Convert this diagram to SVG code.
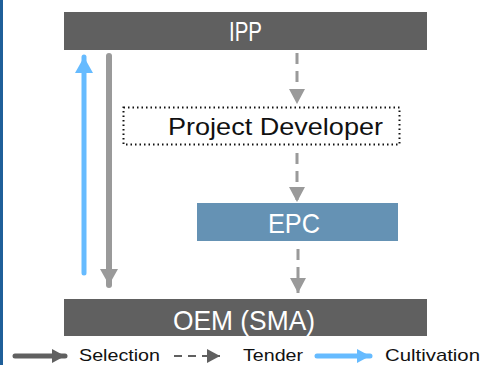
<svg xmlns="http://www.w3.org/2000/svg" width="483" height="365" viewBox="0 0 483 365">
<style>
.lbl{font-family:"Liberation Sans","DejaVu Sans",sans-serif;text-anchor:middle}
.w{fill:#ffffff}
.leg{font-family:"Liberation Sans","DejaVu Sans",sans-serif;font-size:17px;fill:#111}
.dash{stroke:#9a9a9a;stroke-width:3;stroke-dasharray:11 7;fill:none}
</style>
<defs>
<marker id="hGray" markerUnits="userSpaceOnUse" markerWidth="18" markerHeight="16" refX="16" refY="8.5" orient="auto" viewBox="0 0 18 17"><polygon points="0,0 16,8.5 0,17" fill="#9a9a9a"/></marker>
<marker id="hGray2" markerUnits="userSpaceOnUse" markerWidth="18" markerHeight="18" refX="16" refY="9" orient="auto" viewBox="0 0 18 18"><polygon points="0,0 16,9 0,18" fill="#9a9a9a"/></marker>
<marker id="hBlue" markerUnits="userSpaceOnUse" markerWidth="18" markerHeight="18" refX="16" refY="9" orient="auto" viewBox="0 0 18 18"><polygon points="0,0 16,9 0,18" fill="#66bbff"/></marker>
<marker id="hDark" markerUnits="userSpaceOnUse" markerWidth="14" markerHeight="14" refX="13" refY="7" orient="auto" viewBox="0 0 14 14"><polygon points="0,0 13,7 0,14" fill="#606060"/></marker>
<marker id="hBlueS" markerUnits="userSpaceOnUse" markerWidth="14" markerHeight="14" refX="13" refY="7" orient="auto" viewBox="0 0 14 14"><polygon points="0,0 13,7 0,14" fill="#66bbff"/></marker>
<marker id="hGrayS" markerUnits="userSpaceOnUse" markerWidth="14" markerHeight="14" refX="13" refY="7" orient="auto" viewBox="0 0 14 14"><polygon points="0,0 13,7 0,14" fill="#606060"/></marker>
</defs>
<rect x="0" y="0" width="3" height="365" fill="#1f5f99"/>

<g id="connectors">
<line x1="84" y1="273" x2="84" y2="57" stroke="#66bbff" stroke-width="5" stroke-linecap="round" marker-end="url(#hBlue)"/>
<line x1="109" y1="56" x2="109" y2="285" stroke="#9a9a9a" stroke-width="6" stroke-linecap="round" marker-end="url(#hGray2)"/>
<line class="dash" x1="297" y1="53" x2="297" y2="104" marker-end="url(#hGray)"/>
<line class="dash" x1="297" y1="153" x2="297" y2="202" marker-end="url(#hGray)"/>
<line class="dash" x1="298" y1="249" x2="298" y2="293" marker-end="url(#hGray)"/>
</g>

<g id="node-ipp">
<rect x="64" y="12" width="363" height="38" fill="#606060"/>
<text class="lbl w" x="245.5" y="41" font-size="28" textLength="33" lengthAdjust="spacingAndGlyphs">IPP</text>
</g>
<g id="node-pd">
<rect x="123.5" y="107.5" width="276" height="37" fill="none" stroke="#111" stroke-width="2" stroke-dasharray="1.5 3"/>
<text class="lbl" x="275.5" y="135" font-size="24" fill="#111" textLength="215" lengthAdjust="spacingAndGlyphs">Project Developer</text>
</g>
<g id="node-epc">
<rect x="197" y="203" width="201" height="38" fill="#6592b4"/>
<text class="lbl w" x="294" y="233" font-size="28" textLength="52" lengthAdjust="spacingAndGlyphs">EPC</text>
</g>
<g id="node-oem">
<rect x="64" y="299" width="363" height="37" fill="#606060"/>
<text class="lbl w" x="244" y="330" font-size="28" textLength="142" lengthAdjust="spacingAndGlyphs">OEM (SMA)</text>
</g>

<g id="legend">
<line x1="15" y1="356" x2="65" y2="356" stroke="#606060" stroke-width="5" stroke-linecap="round" marker-end="url(#hDark)"/>
<text class="leg" x="79" y="361" textLength="81" lengthAdjust="spacingAndGlyphs">Selection</text>
<line x1="174" y1="356" x2="220" y2="356" stroke="#606060" stroke-width="2" stroke-dasharray="8 6" marker-end="url(#hGrayS)"/>
<text class="leg" x="243" y="361" textLength="60" lengthAdjust="spacingAndGlyphs">Tender</text>
<line x1="317" y1="356" x2="370" y2="356" stroke="#66bbff" stroke-width="5" stroke-linecap="round" marker-end="url(#hBlueS)"/>
<text class="leg" x="385" y="361" textLength="95" lengthAdjust="spacingAndGlyphs">Cultivation</text>
</g>
</svg>
